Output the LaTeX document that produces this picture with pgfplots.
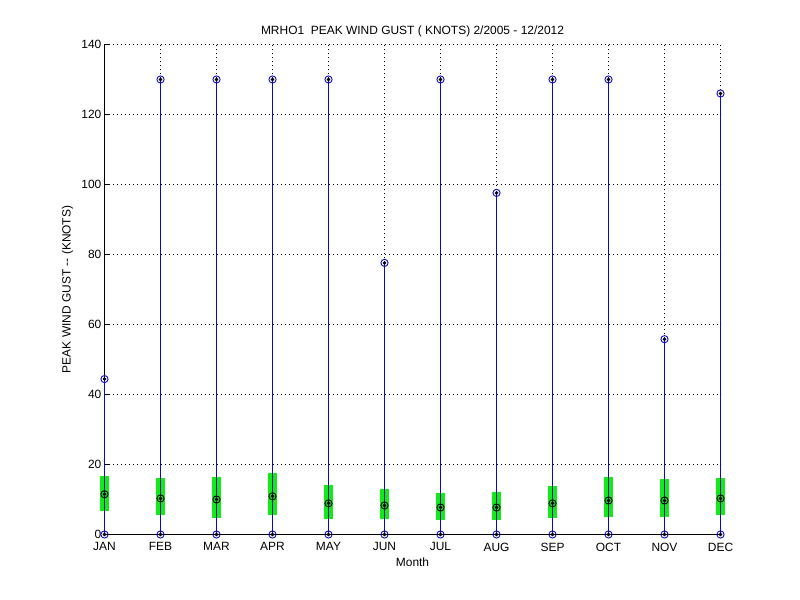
\documentclass[border=0pt]{standalone}
\usepackage{fontspec}
\setmainfont{Liberation Sans}
\usepackage{pgfplots}
\pgfplotsset{compat=1.18}
\definecolor{mblue}{RGB}{10,10,205}
\definecolor{mgreen}{RGB}{20,235,20}
\begin{document}
\fontsize{12}{14}\selectfont
\begin{tikzpicture}[x=1bp,y=1bp]
\begin{axis}[
  set layers,
  at={(104.5bp,65.5bp)}, anchor=south west,
  width=616bp, height=490bp, scale only axis,
  xmin=1, xmax=12, ymin=0, ymax=140,
  axis x line*=bottom, axis y line*=left,
  axis line style={black, line width=1bp, -},
  xtick={1,...,12},
  xticklabels={JAN,FEB,MAR,APR,MAY,JUN,JUL,AUG,SEP,OCT,NOV,DEC},
  ytick={0,20,...,140},
  tick align=inside, major tick length=5bp,
  tick style={black, line width=1bp},
  grid=major,
  major grid style={black, line width=0.9bp, dash pattern=on 1bp off 3bp},
  ticklabel style={font=\fontsize{12}{14}\selectfont},
  /pgf/number format/assume math mode=true,
  xticklabel style={yshift=-4bp},
  yticklabel style={xshift=1bp},
  title={MRHO1\ \ PEAK WIND GUST ( KNOTS) 2/2005 - 12/2012},
  title style={font=\fontsize{12}{14}\selectfont, yshift=-3bp},
  xlabel={Month}, ylabel={PEAK WIND GUST {-}{-} (KNOTS)},
  xlabel style={font=\fontsize{12}{14}\selectfont, yshift=1bp},
  ylabel style={font=\fontsize{12}{14}\selectfont, yshift=0bp},
  clip=false,
]
% green boxes (low / high)
\addplot[color=mgreen, line width=9bp, unbounded coords=jump, mark=none] coordinates {
(1,6.7) (1,16.7) (1,nan)
(2,5.6) (2,16.1) (2,nan)
(3,4.7) (3,16.5) (3,nan)
(4,5.6) (4,17.6) (4,nan)
(5,4.5) (5,14.1) (5,nan)
(6,4.5) (6,12.9) (6,nan)
(7,4.2) (7,11.8) (7,nan)
(8,4.2) (8,12.1) (8,nan)
(9,4.7) (9,13.8) (9,nan)
(10,5.0) (10,16.4) (10,nan)
(11,5.0) (11,15.8) (11,nan)
(12,5.6) (12,16.1)
};
% blue lines min to max
\addplot[color=mblue, line width=1.1bp, unbounded coords=jump, mark=none] coordinates {
(1,0) (1,44.4) (1,nan)
(2,0) (2,130) (2,nan)
(3,0) (3,130) (3,nan)
(4,0) (4,130) (4,nan)
(5,0) (5,130) (5,nan)
(6,0) (6,77.6) (6,nan)
(7,0) (7,130) (7,nan)
(8,0) (8,97.6) (8,nan)
(9,0) (9,130) (9,nan)
(10,0) (10,130) (10,nan)
(11,0) (11,55.8) (11,nan)
(12,0) (12,126)
};
% max and min markers
\addplot[only marks, mark=o, mark size=3.6bp, mark options={draw=mblue, line width=0.9bp}] coordinates {
(1,44.4) (2,130) (3,130) (4,130) (5,130) (6,77.6) (7,130) (8,97.6) (9,130) (10,130) (11,55.8) (12,126)
(1,0) (2,0) (3,0) (4,0) (5,0) (6,0) (7,0) (8,0) (9,0) (10,0) (11,0) (12,0)
};
\addplot[only marks, mark=*, mark size=1.6bp, mark options={fill=black, draw=black}] coordinates {
(1,44.4) (2,130) (3,130) (4,130) (5,130) (6,77.6) (7,130) (8,97.6) (9,130) (10,130) (11,55.8) (12,126)
(1,0) (2,0) (3,0) (4,0) (5,0) (6,0) (7,0) (8,0) (9,0) (10,0) (11,0) (12,0)
};
% mean markers
\addplot[only marks, mark=o, mark size=3.6bp, mark options={draw=black, line width=0.9bp}] coordinates {
(1,11.5) (2,10.3) (3,10.0) (4,10.9) (5,8.9) (6,8.3) (7,7.7) (8,7.7) (9,8.9) (10,9.7) (11,9.7) (12,10.3)
};
\addplot[only marks, mark=*, mark size=1.6bp, mark options={fill=black, draw=black}] coordinates {
(1,11.5) (2,10.3) (3,10.0) (4,10.9) (5,8.9) (6,8.3) (7,7.7) (8,7.7) (9,8.9) (10,9.7) (11,9.7) (12,10.3)
};
\end{axis}
\path[use as bounding box] (0,0) rectangle (800,600);
\end{tikzpicture}
\end{document}
